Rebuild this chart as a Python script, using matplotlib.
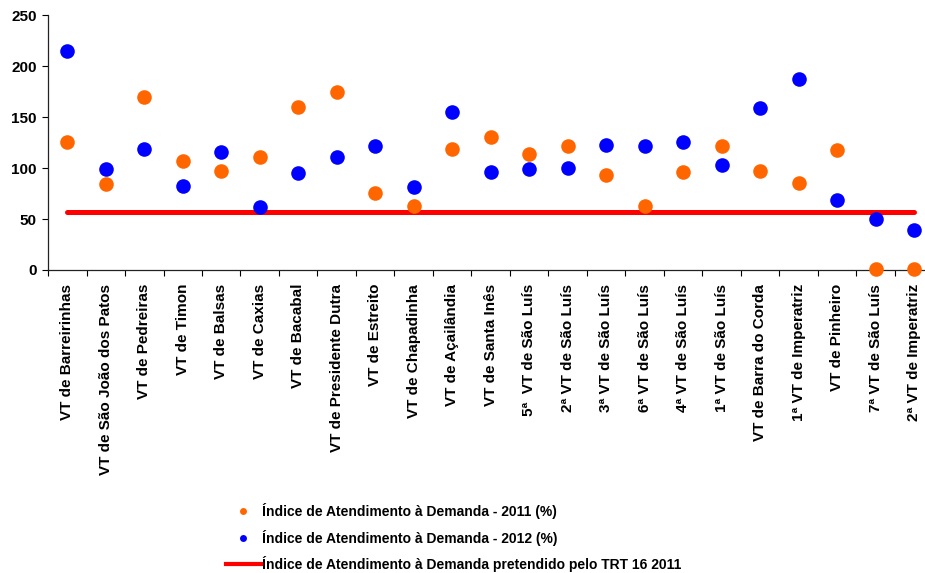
import matplotlib
matplotlib.use("Agg")
import matplotlib.pyplot as plt
from matplotlib.lines import Line2D
from matplotlib.ticker import FixedLocator, NullFormatter

plt.rcParams['font.family'] = ['Liberation Sans', 'DejaVu Sans']
plt.rcParams['font.weight'] = 'bold'

categories = [
    "VT de Barreirinhas", "VT de São João dos Patos", "VT de Pedreiras", "VT de Timon",
    "VT de Balsas", "VT de Caxias", "VT de Bacabal", "VT de Presidente Dutra",
    "VT de Estreito", "VT de Chapadinha", "VT de Açailândia", "VT de Santa Inês",
    "5ª  VT de São Luís", "2ª VT de São Luís", "3ª VT de São Luís", "6ª VT de São Luís",
    "4ª VT de São Luís", "1ª VT de São Luís", "VT de Barra do Corda", "1ª VT de Imperatriz",
    "VT de Pinheiro", "7ª VT de São Luís", "2ª VT de Imperatriz",
]
idx_2011 = [126, 84, 170, 107, 97, 111, 160, 175, 76, 63, 119, 131,
            114, 122, 93, 63, 96, 122, 97, 85, 118, 0.5, 0.5]
idx_2012 = [215, 99, 119, 82, 116, 62, 95, 111, 122, 81, 155, 96,
            99, 100, 123, 122, 126, 103, 159, 187, 69, 50, 39]
target = [57] * len(categories)

label_2011 = "Índice de Atendimento à Demanda - 2011 (%)"
label_2012 = "Índice de Atendimento à Demanda - 2012 (%)"
label_target = "Índice de Atendimento à Demanda pretendido pelo TRT 16 2011"

orange = "#FF6600"
blue = "#0000FF"
red = "#FF0000"

fig = plt.figure(figsize=(9.25, 5.73), dpi=100)
W, H = 925, 573
left, right, top, bottom = 48, 933.5, 15.3, 270
ax = fig.add_axes([left / W, 1 - bottom / H, (right - left) / W, (bottom - top) / H])

x = list(range(len(categories)))
ax.plot(x, target, color=red, lw=3.6, solid_capstyle='round', zorder=2)
ax.plot(x, idx_2011, 'o', color=orange, ms=10.5, mec='none', zorder=3, clip_on=False)
ax.plot(x, idx_2012, 'o', color=blue, ms=10.5, mec='none', zorder=3, clip_on=False)

ax.set_xlim(-0.5, len(categories) - 0.5)
ax.set_ylim(0, 250)
ax.set_yticks([0, 50, 100, 150, 200, 250])
ax.tick_params(axis='y', labelsize=11, length=4, width=0.8, direction='out', pad=4)

ax.xaxis.set_major_locator(FixedLocator([i - 0.5 for i in range(len(categories) + 1)]))
ax.xaxis.set_major_formatter(NullFormatter())
ax.xaxis.set_minor_locator(FixedLocator(x))
ax.set_xticklabels(categories, minor=True, rotation=90, fontsize=11, fontweight='bold')
ax.tick_params(axis='x', which='major', length=4, width=0.8, direction='out')
ax.tick_params(axis='x', which='minor', length=0, pad=10)

for s in ['top', 'right']:
    ax.spines[s].set_visible(False)
for s in ['left', 'bottom']:
    ax.spines[s].set_linewidth(0.9)
    ax.spines[s].set_color('#222222')

handles = [
    Line2D([], [], marker='o', ls='none', color=orange, ms=5, mec='none'),
    Line2D([], [], marker='o', ls='none', color=blue, ms=5, mec='none'),
    Line2D([], [], color=red, lw=3),
]
fig.legend(handles, [label_2011, label_2012, label_target], loc='upper left',
           bbox_to_anchor=(226 / W, 1 - 503 / H), frameon=False,
           handlelength=2.5, handletextpad=0.1, labelspacing=0.76,
           borderpad=0, borderaxespad=0, prop={'weight': 'bold', 'size': 10})

fig.savefig("out.png", dpi=100)
